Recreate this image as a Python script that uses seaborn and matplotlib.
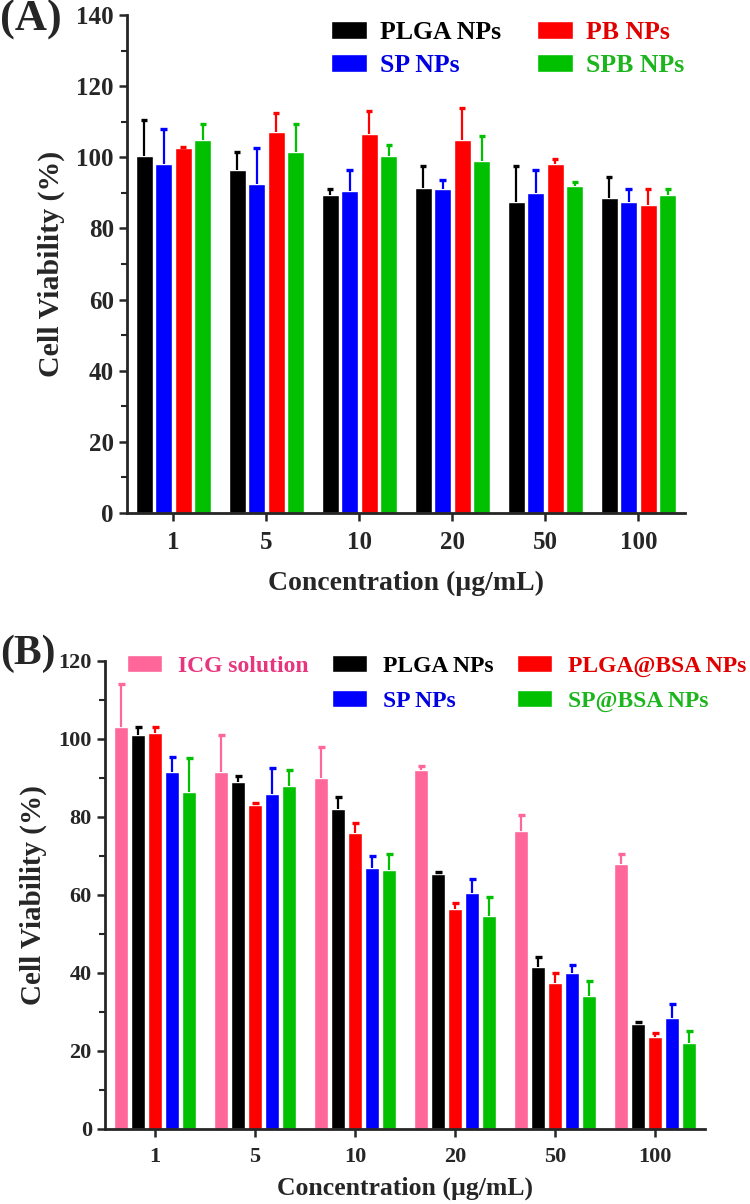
import numpy as np
import pandas as pd
import matplotlib
matplotlib.use('Agg')
import matplotlib.pyplot as plt
from matplotlib.patches import Patch
from matplotlib.ticker import MultipleLocator
import seaborn as sns

sns.set_theme(style='ticks')
plt.rcParams['font.family'] = ['Liberation Serif', 'DejaVu Serif']
plt.rcParams['font.weight'] = 'bold'

CONCS = ['1', '5', '10', '20', '50', '100']

# panel A: cell viability (%) and upper error
A_GROUPS = ['PLGA NPs', 'SP NPs', 'PB NPs', 'SPB NPs']
A_COLORS = ['#000000', '#0000FF', '#FF0000', '#00C000']
A_TEXT_COLORS = ['#000000', '#0000E0', '#E00000', '#1DB51D']
A_PLGA = [100.5, 96.5, 89.5, 91.5, 87.5, 88.5]
A_PLGA_ERR = [10.0, 5.0, 1.5, 6.0, 10.0, 6.0]
A_SP = [98.0, 92.5, 90.5, 91.0, 90.0, 87.5]
A_SP_ERR = [10.0, 10.0, 6.0, 2.5, 6.5, 3.5]
A_PB = [102.5, 107.0, 106.5, 105.0, 98.0, 86.5]
A_PB_ERR = [0.5, 5.5, 6.5, 9.0, 1.5, 4.5]
A_SPB = [105.0, 101.5, 100.5, 99.0, 92.0, 89.5]
A_SPB_ERR = [4.5, 8.0, 3.0, 7.0, 1.0, 1.5]

# panel B
B_GROUPS = ['ICG solution', 'PLGA NPs', 'PLGA@BSA NPs', 'SP NPs', 'SP@BSA NPs']
B_COLORS = ['#FF6699', '#000000', '#FF0000', '#0000FF', '#00C000']
B_TEXT_COLORS = ['#E8367E', '#000000', '#E00000', '#0000E0', '#1DB51D']
B_ICG = [103.0, 91.5, 90.0, 92.0, 76.5, 68.0]
B_ICG_ERR = [11.0, 9.5, 8.0, 1.0, 4.0, 2.5]
B_PLGA = [101.0, 89.0, 82.0, 65.5, 41.5, 27.0]
B_PLGA_ERR = [2.0, 1.5, 3.0, 0.5, 2.5, 0.5]
B_PLGABSA = [101.5, 83.0, 76.0, 56.5, 37.5, 23.5]
B_PLGABSA_ERR = [1.5, 0.5, 2.5, 1.5, 2.5, 1.0]
B_SP = [91.5, 86.0, 67.0, 60.5, 40.0, 28.5]
B_SP_ERR = [4.0, 6.5, 3.0, 3.5, 2.0, 3.5]
B_SPBSA = [86.5, 88.0, 66.5, 54.5, 34.0, 22.0]
B_SPBSA_ERR = [8.5, 4.0, 4.0, 5.0, 4.0, 3.0]

A_VALS = [A_PLGA, A_SP, A_PB, A_SPB]
A_ERRS = [A_PLGA_ERR, A_SP_ERR, A_PB_ERR, A_SPB_ERR]
B_VALS = [B_ICG, B_PLGA, B_PLGABSA, B_SP, B_SPBSA]
B_ERRS = [B_ICG_ERR, B_PLGA_ERR, B_PLGABSA_ERR, B_SP_ERR, B_SPBSA_ERR]


def long_frame(groups, vals):
    rows = []
    for g, v in zip(groups, vals):
        for c, y in zip(CONCS, v):
            rows.append({'conc': c, 'group': g, 'value': y})
    return pd.DataFrame(rows)


def draw_panel(ax, groups, vals, errs, colors, width, gap, ymax,
               tick_fs, xlab_fs, ylab_fs, xpad):
    df = long_frame(groups, vals)
    sns.barplot(data=df, x='conc', y='value', hue='group', order=CONCS,
                hue_order=groups, palette=colors, saturation=1, width=width,
                gap=gap, errorbar=None, legend=False, ax=ax)
    # upper error bars only
    for cont, err, col in zip(ax.containers, errs, colors):
        xs = np.array([b.get_x() + b.get_width() / 2 for b in cont])
        ys = np.array([b.get_height() for b in cont])
        tops = ys + np.array(err)
        ax.vlines(xs, ys, tops, colors=col, lw=1.6)
        ax.hlines(tops, xs - 0.035, xs + 0.035, colors=col, lw=2.4)
    ax.set_xlim(-0.5, len(CONCS) - 0.5)
    ax.set_ylim(0, ymax)
    ax.yaxis.set_major_locator(MultipleLocator(20))
    ax.yaxis.set_minor_locator(MultipleLocator(10))
    ax.tick_params(axis='both', which='major', labelsize=tick_fs, width=1.8, length=6)
    ax.tick_params(axis='x', which='major', pad=7)
    ax.tick_params(axis='y', which='minor', width=1.5, length=4)
    for lab in ax.get_xticklabels() + ax.get_yticklabels():
        lab.set_fontweight('bold')
    for s in ['left', 'bottom']:
        ax.spines[s].set_linewidth(2)
    sns.despine(ax=ax)
    ax.set_xlabel('Concentration (\u00b5g/mL)', fontsize=xlab_fs, fontweight='bold', labelpad=xpad)
    ax.set_ylabel('Cell Viability (%)', fontsize=ylab_fs, fontweight='bold', labelpad=8)


fig = plt.figure(figsize=(7.5, 12.04), dpi=100)
ax_a = fig.add_axes([0.1693, 0.5739, 0.744, 0.4136])
ax_b = fig.add_axes([0.14, 0.0623, 0.80, 0.3887])

draw_panel(ax_a, A_GROUPS, A_VALS, A_ERRS, A_COLORS, 0.84, 0.13, 140, 18, 20, 21.5, 12)
draw_panel(ax_b, B_GROUPS, B_VALS, B_ERRS, B_COLORS, 0.85, 0.12, 120, 16, 18.5, 21, 7)

# legends
handles_a = [Patch(facecolor=A_COLORS[i], label=A_GROUPS[i]) for i in range(4)]
leg_a = ax_a.legend(handles=handles_a, ncol=2, loc='upper left',
                    bbox_to_anchor=(331 / 750, 1 - 21 / 1204), bbox_transform=fig.transFigure,
                    frameon=False, fontsize=18.5, handlelength=1.4, handleheight=0.7,
                    handletextpad=0.5, columnspacing=1.4, labelspacing=0.4,
                    borderaxespad=0, borderpad=0)
for t, c in zip(leg_a.get_texts(), A_TEXT_COLORS):
    t.set_color(c)
    t.set_fontweight('bold')

blank = Patch(facecolor='none', edgecolor='none', label=' ')
handles_b = [Patch(facecolor=B_COLORS[0], label=B_GROUPS[0]), blank,
             Patch(facecolor=B_COLORS[1], label=B_GROUPS[1]),
             Patch(facecolor=B_COLORS[3], label=B_GROUPS[3]),
             Patch(facecolor=B_COLORS[2], label=B_GROUPS[2]),
             Patch(facecolor=B_COLORS[4], label=B_GROUPS[4])]
text_cols_b = [B_TEXT_COLORS[0], 'none', B_TEXT_COLORS[1], B_TEXT_COLORS[3],
               B_TEXT_COLORS[2], B_TEXT_COLORS[4]]
leg_b = ax_b.legend(handles=handles_b, ncol=3, loc='upper left',
                    bbox_to_anchor=(127 / 750, 1 - 655 / 1204), bbox_transform=fig.transFigure,
                    frameon=False, fontsize=17, handlelength=1.5, handleheight=0.75,
                    columnspacing=1.0, labelspacing=0.55, borderaxespad=0, borderpad=0,
                    handletextpad=0.65)
for t, c in zip(leg_b.get_texts(), text_cols_b):
    t.set_color(c)
    t.set_fontweight('bold')

fig.text(0.0, 1 - 20 / 1204, '(A)', fontsize=32, fontweight='bold', va='center', ha='left')
fig.text(0.0, 1 - 654 / 1204, '(B)', fontsize=30, fontweight='bold', va='center', ha='left')

fig.savefig('out.png', dpi=100)
